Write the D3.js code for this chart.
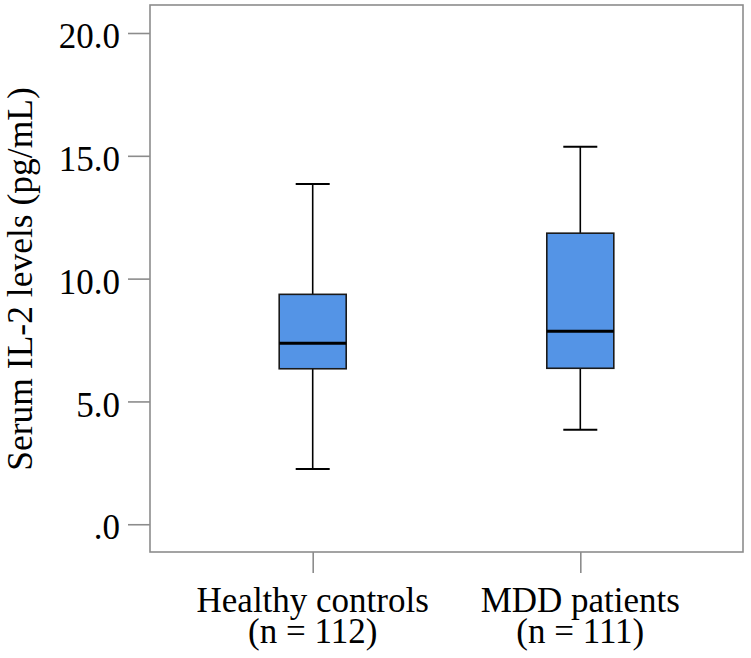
<!DOCTYPE html>
<html>
<head>
<meta charset="utf-8">
<script src="https://cdn.jsdelivr.net/npm/d3@7"></script>
<style>
  html, body { margin: 0; padding: 0; background: #fff; }
  svg { display: block; }
  text { font-family: "Liberation Serif", "Times New Roman", serif; fill: #000; }
</style>
</head>
<body>
<svg id="chart" width="751" height="658"></svg>
<script>
// Data
const categories = ["Healthy controls", "MDD patients"];
const sampleLabels = ["(n = 112)", "(n = 111)"];
const whiskerLow = [2.25, 3.85];
const q1 = [6.33, 6.35];
const medians = [7.37, 7.86];
const q3 = [9.36, 11.85];
const whiskerHigh = [13.85, 15.37];
const yTicks = [0, 5, 10, 15, 20];
const yTickLabels = [".0", "5.0", "10.0", "15.0", "20.0"];
const yTitle = "Serum IL-2 levels (pg/mL)";

const svg = d3.select("#chart");
const plotLeft = 150, plotRight = 743, plotTop = 5, plotBottom = 552;

const y = d3.scaleLinear().domain([-1.13, 21.14]).range([plotBottom, plotTop]);
const x = d3.scalePoint().domain(categories).range([plotLeft, plotRight]).padding(0.608);
const boxW = 67, capW = 34;
const frameColor = "#8c8c8c";

// frame
svg.append("rect")
  .attr("x", plotLeft).attr("y", plotTop)
  .attr("width", plotRight - plotLeft).attr("height", plotBottom - plotTop)
  .attr("fill", "none").attr("stroke", frameColor).attr("stroke-width", 1.6);

// y axis
const yAxis = d3.axisLeft(y).tickValues(yTicks)
  .tickFormat((d, i) => yTickLabels[i]).tickSize(22).tickPadding(8);
const gy = svg.append("g").attr("transform", `translate(${plotLeft},0)`).call(yAxis);
gy.select(".domain").remove();
gy.selectAll(".tick line").attr("stroke", frameColor).attr("stroke-width", 1.6);
gy.selectAll(".tick text")
  .attr("font-size", 35)
  .attr("font-family", "Liberation Serif, serif")
  .attr("dy", "0.42em")
  .attr("fill", "#000");

// x axis
const xAxis = d3.axisBottom(x).tickSize(21).tickFormat(() => "");
const gx = svg.append("g").attr("transform", `translate(0,${plotBottom})`).call(xAxis);
gx.select(".domain").remove();
gx.selectAll(".tick line").attr("stroke", frameColor).attr("stroke-width", 1.6);

// category labels
categories.forEach((c, i) => {
  const t = svg.append("text")
    .attr("x", x(c)).attr("text-anchor", "middle").attr("font-size", 35);
  t.append("tspan").attr("x", x(c)).attr("y", 612).text(c);
  t.append("tspan").attr("x", x(c)).attr("y", 643).text(sampleLabels[i]);
});

// y title
svg.append("text")
  .attr("transform", `translate(32,279) rotate(-90)`)
  .attr("text-anchor", "middle")
  .attr("font-size", 35.5)
  .text(yTitle);

// boxes
const g = svg.append("g");
categories.forEach((c, i) => {
  const cx = x(c);
  g.append("line").attr("x1", cx).attr("x2", cx)
    .attr("y1", y(whiskerHigh[i])).attr("y2", y(q3[i]))
    .attr("stroke", "#000").attr("stroke-width", 1.6);
  g.append("line").attr("x1", cx).attr("x2", cx)
    .attr("y1", y(q1[i])).attr("y2", y(whiskerLow[i]))
    .attr("stroke", "#000").attr("stroke-width", 1.6);
  [whiskerHigh[i], whiskerLow[i]].forEach(v => {
    g.append("line").attr("x1", cx - capW / 2).attr("x2", cx + capW / 2)
      .attr("y1", y(v)).attr("y2", y(v))
      .attr("stroke", "#000").attr("stroke-width", 2);
  });
  g.append("rect")
    .attr("x", cx - boxW / 2).attr("y", y(q3[i]))
    .attr("width", boxW).attr("height", y(q1[i]) - y(q3[i]))
    .attr("fill", "#5494e6").attr("stroke", "#1a1a1a").attr("stroke-width", 1.6);
  g.append("line").attr("x1", cx - boxW / 2).attr("x2", cx + boxW / 2)
    .attr("y1", y(medians[i])).attr("y2", y(medians[i]))
    .attr("stroke", "#000").attr("stroke-width", 3);
});
</script>
</body>
</html>
